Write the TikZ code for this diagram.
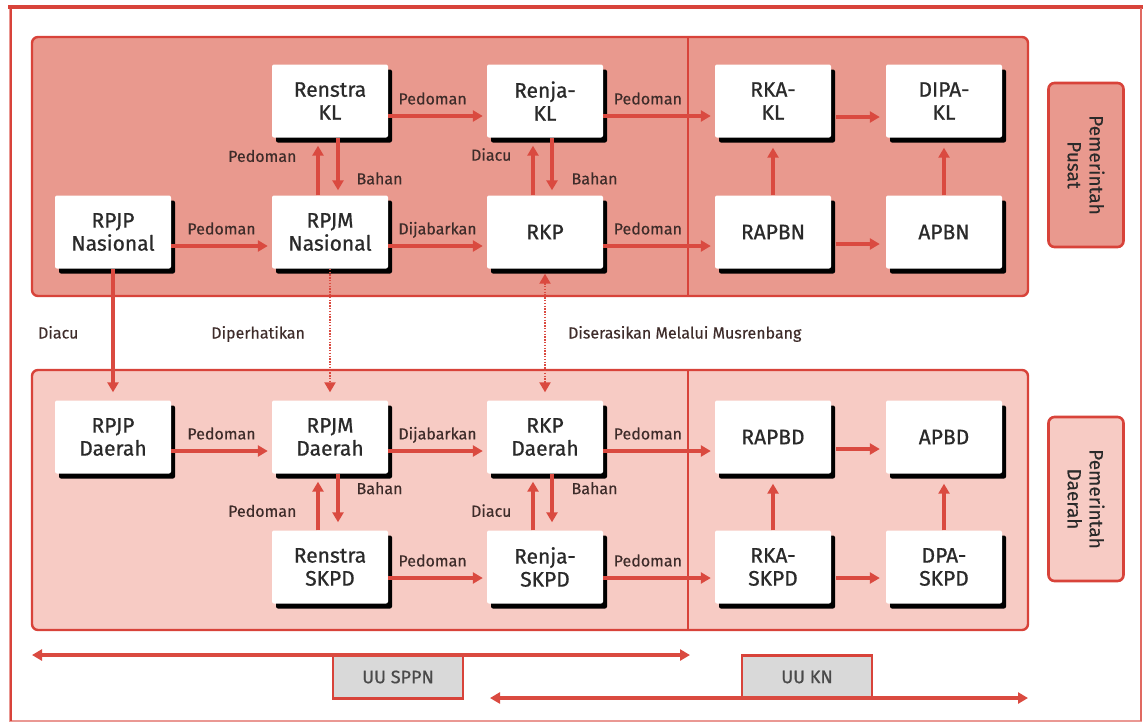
\documentclass[tikz,border=0pt]{standalone}
\usepackage{fontspec}
\setmainfont{Fira Sans}
\newfontfamily\boxfont{Fira Sans}[FakeBold=0.7]
\newfontfamily\lblfont{Fira Sans}[FakeBold=0.3]
\usetikzlibrary{arrows.meta}
\usetikzlibrary{shadows}

\definecolor{framered}{HTML}{D8433A}
\definecolor{arrowred}{HTML}{DA4A40}
\definecolor{toppanel}{HTML}{E9998E}
\definecolor{lowpanel}{HTML}{F7CBC4}
\definecolor{boxtext}{HTML}{2A2A2A}
\definecolor{lbltext}{HTML}{3E2C2A}
\definecolor{lawgray}{HTML}{D9D9D9}

\begin{document}
\begin{tikzpicture}[x=1pt, y=-1pt, >={Triangle[length=10pt,width=11pt]},
  box/.style={fill=white, rounded corners=2pt, minimum width=116pt, minimum height=73pt,
    align=center, text=boxtext, font=\boxfont\fontsize{21}{23}\selectfont,
    drop shadow={shadow xshift=4pt, shadow yshift=-5pt, fill=black, opacity=1}},
  lbl/.style={text=lbltext, font=\lblfont\fontsize{16}{19}\selectfont, inner sep=1pt,
    text height=12pt, text depth=4pt},
  flow/.style={->, draw=arrowred, line width=3.2pt},
  link/.style={flow, line width=2.2pt, dash pattern=on 1.4pt off 1.4pt},
  panel/.style={draw=framered, line width=2.4pt, rounded corners=6pt},
  sidetag/.style={draw=framered, line width=2.6pt, rounded corners=6pt, rotate=-90,
    minimum width=164pt, minimum height=75pt, align=center, text=boxtext,
    font=\lblfont\fontsize{19}{22}\selectfont},
  lawbox/.style={draw=framered, line width=2.4pt, fill=lawgray, minimum width=130pt,
    minimum height=43pt, text=boxtext!85, font=\boxfont\fontsize{18}{21}\selectfont},
  lawspan/.style={<->, draw=arrowred, line width=3.2pt}]
\useasboundingbox (0,0) rectangle (1147,724);

\draw[draw=framered!55, line width=1.5pt] (10,8) rectangle (1141,721);
\draw[draw=framered, line width=4pt] (8,7) -- (1143,7);
\draw[draw=framered, line width=2.5pt] (11,8) -- (11,721);
\draw[draw=framered!80, line width=2pt] (1141,8) -- (1141,721);

\draw[panel, fill=toppanel] (32,37) rectangle (1028,296);
\draw[draw=framered, line width=2.2pt] (688,37) -- (688,296);
\draw[panel, fill=lowpanel] (32,370) rectangle (1028,630);
\draw[draw=framered, line width=2.2pt] (688,370) -- (688,630);

\node[name=rpjpn, box] at (113,232) {RPJP\\Nasional};
\node[name=rpjmn, box, node distance=217pt, right of=rpjpn] {RPJM\\Nasional};
\node[name=renstrakl, box, node distance=131pt, above of=rpjmn] {Renstra\\KL};
\node[name=rkp, box, node distance=215pt, right of=rpjmn] {RKP};
\node[name=renjakl, box, node distance=131pt, above of=rkp] {Renja-\\KL};
\node[name=rapbn, box, node distance=228pt, right of=rkp] {RAPBN};
\node[name=rkakl, box, node distance=131pt, above of=rapbn] {RKA-\\KL};
\node[name=apbn, box, node distance=171pt, right of=rapbn] {APBN};
\node[name=dipakl, box, node distance=131pt, above of=apbn] {DIPA-\\KL};

\node[name=rpjpd, box, node distance=205pt, below of=rpjpn] {RPJP\\Daerah};
\node[name=rpjmd, box, node distance=217pt, right of=rpjpd] {RPJM\\Daerah};
\node[name=renstraskpd, box, node distance=130pt, below of=rpjmd] {Renstra\\SKPD};
\node[name=rkpd, box, node distance=215pt, right of=rpjmd] {RKP\\Daerah};
\node[name=renjaskpd, box, node distance=130pt, below of=rkpd] {Renja-\\SKPD};
\node[name=rapbd, box, node distance=228pt, right of=rkpd] {RAPBD};
\node[name=rkaskpd, box, node distance=130pt, below of=rapbd] {RKA-\\SKPD};
\node[name=apbd, box, node distance=171pt, right of=rapbd] {APBD};
\node[name=dpaskpd, box, node distance=130pt, below of=apbd] {DPA-\\SKPD};

\node[name=pusat, sidetag, fill=toppanel] at (1086,165) {Pemerintah\\Pusat};
\node[name=daerah, sidetag, fill=lowpanel] at (1086,499) {Pemerintah\\Daerah};

\node[name=uusppn, lawbox] at (398,677) {UU SPPN};
\node[name=uukn, lawbox] at (807,677) {UU KN};
\coordinate (sppnleft) at (32,655);
\coordinate (sppnright) at (690,655);
\coordinate (knleft) at (490,698);
\coordinate (knright) at (1028,698);

\draw([yshift=-14pt]rpjpn.east) edge[flow, shorten >=4pt]node[lbl, above=5pt]{Pedoman}([yshift=-14pt]rpjmn.west);
\draw([yshift=-14pt]rpjmn.east) edge[flow, shorten >=4pt]node[lbl, above=5pt]{Dijabarkan}([yshift=-14pt]rkp.west);
\draw([yshift=-14pt]rkp.east) edge[flow, shorten >=4pt]node[lbl, above=5pt, pos=0.4]{Pedoman}([yshift=-14pt]rapbn.west);
\draw([yshift=-12pt]rapbn.east) edge[flow, shorten <=5pt, shorten >=6pt]([yshift=-12pt]apbn.west);
\draw([yshift=-15pt]renstrakl.east) edge[flow, shorten >=4pt]node[lbl, above=5pt, pos=0.45]{Pedoman}([yshift=-15pt]renjakl.west);
\draw([yshift=-15pt]renjakl.east) edge[flow, shorten >=4pt]node[lbl, above=5pt, pos=0.4]{Pedoman}([yshift=-15pt]rkakl.west);
\draw([yshift=-16pt]rkakl.east) edge[flow, shorten <=5pt, shorten >=6pt]([yshift=-16pt]dipakl.west);
\draw(rapbn.north) edge[flow, shorten >=10pt](rkakl.south);
\draw(apbn.north) edge[flow, shorten >=10pt](dipakl.south);
\draw([xshift=-12pt]rpjmn.north) edge[flow, shorten >=8pt]node[lbl, left=19pt, pos=0.65]{Pedoman}([xshift=-12pt]renstrakl.south);
\draw([xshift=8pt]renstrakl.south) edge[flow, shorten >=5pt]node[lbl, right=16pt, pos=0.74]{Bahan}([xshift=8pt]rpjmn.north);
\draw([xshift=-12pt]rkp.north) edge[flow, shorten >=8pt]node[lbl, left=19pt, pos=0.67]{Diacu}([xshift=-12pt]renjakl.south);
\draw([xshift=7pt]renjakl.south) edge[flow, shorten >=5pt]node[lbl, right=17pt, pos=0.74]{Bahan}([xshift=7pt]rkp.north);

\draw(rpjpn.south) edge[flow, shorten >=8pt]node[lbl, left=32pt]{Diacu}(rpjpd.north);
\draw(rpjmn.south) edge[link, shorten >=8pt]node[lbl, left=23pt]{Diperhatikan}(rpjmd.north);
\draw(rkp.south) edge[link, <->, shorten <=5pt, shorten >=8pt]node[lbl, right=21pt]{Diserasikan Melalui Musrenbang}(rkpd.north);

\draw([yshift=-14pt]rpjpd.east) edge[flow, shorten >=4pt]node[lbl, above=5pt]{Pedoman}([yshift=-14pt]rpjmd.west);
\draw([yshift=-14pt]rpjmd.east) edge[flow, shorten >=4pt]node[lbl, above=5pt]{Dijabarkan}([yshift=-14pt]rkpd.west);
\draw([yshift=-14pt]rkpd.east) edge[flow, shorten >=4pt]node[lbl, above=5pt, pos=0.4]{Pedoman}([yshift=-14pt]rapbd.west);
\draw([yshift=-12pt]rapbd.east) edge[flow, shorten <=5pt, shorten >=6pt]([yshift=-12pt]apbd.west);
\draw([yshift=-11pt]renstraskpd.east) edge[flow, shorten >=4pt]node[lbl, above=5pt, pos=0.45]{Pedoman}([yshift=-11pt]renjaskpd.west);
\draw([yshift=-11pt]renjaskpd.east) edge[flow, shorten >=4pt]node[lbl, above=5pt, pos=0.4]{Pedoman}([yshift=-11pt]rkaskpd.west);
\draw([yshift=-11pt]rkaskpd.east) edge[flow, shorten <=5pt, shorten >=6pt]([yshift=-11pt]dpaskpd.west);
\draw(rkaskpd.north) edge[flow, shorten >=10pt](rapbd.south);
\draw(dpaskpd.north) edge[flow, shorten >=10pt](apbd.south);
\draw([xshift=-12pt]renstraskpd.north) edge[flow, shorten >=8pt]node[lbl, left=19pt, pos=0.31]{Pedoman}([xshift=-12pt]rpjmd.south);
\draw([xshift=8pt]rpjmd.south) edge[flow, shorten >=8pt]node[lbl, right=16pt, pos=0.29]{Bahan}([xshift=8pt]renstraskpd.north);
\draw([xshift=-12pt]renjaskpd.north) edge[flow, shorten >=8pt]node[lbl, left=19pt, pos=0.31]{Diacu}([xshift=-12pt]rkpd.south);
\draw([xshift=7pt]rkpd.south) edge[flow, shorten >=8pt]node[lbl, right=17pt, pos=0.29]{Bahan}([xshift=7pt]renjaskpd.north);

\draw(sppnleft) edge[lawspan](sppnright);
\draw(knleft) edge[lawspan](knright);
\end{tikzpicture}
\end{document}
